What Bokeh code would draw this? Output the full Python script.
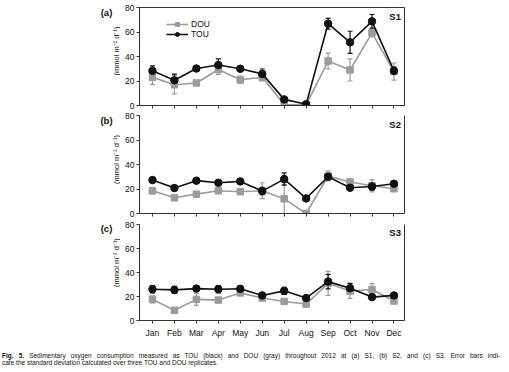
import math
from bokeh.plotting import figure
from bokeh.models import (ColumnDataSource, Whisker, TeeHead, Legend, LegendItem, Label,
                          FixedTicker, LinearAxis, Range1d, Div)
from bokeh.layouts import column, row
from bokeh.core.properties import value
from bokeh.embed import file_html
from bokeh.resources import INLINE

months = ["Jan", "Feb", "Mar", "Apr", "May", "Jun", "Jul", "Aug", "Sep", "Oct", "Nov", "Dec"]
y_ticks = [0, 20, 40, 60, 80]

s1_tou = [28.3, 20.6, 30.2, 33.0, 30.0, 25.8, 5.0, 1.0, 66.8, 51.6, 68.7, 28.3]
s1_tou_sd = [4.0, 5.0, 1.5, 5.0, 2.0, 4.0, 1.0, 0.5, 4.4, 9.0, 5.6, 3.0]
s1_dou = [23.0, 17.0, 18.4, 29.4, 21.0, 23.0, 0.8, 0.5, 36.3, 29.0, 59.3, 27.7]
s1_dou_sd = [6.0, 7.5, 1.5, 4.0, 3.0, 3.0, 1.0, 0.5, 6.5, 9.0, 3.0, 7.0]

s2_tou = [27.3, 20.8, 26.8, 25.1, 26.2, 18.3, 28.1, 12.3, 30.0, 21.0, 22.1, 24.3]
s2_tou_sd = [1.5, 1.5, 1.5, 1.5, 1.5, 3.0, 5.0, 1.5, 2.0, 2.0, 3.0, 1.5]
s2_dou = [18.6, 12.8, 15.8, 18.6, 17.8, 18.6, 12.0, 0.0, 30.6, 25.7, 22.7, 20.2]
s2_dou_sd = [2.5, 1.5, 2.0, 1.5, 2.0, 6.5, 12.0, 0.5, 4.0, 2.0, 5.0, 2.0]

s3_tou = [26.1, 25.5, 26.6, 26.1, 26.4, 20.9, 24.7, 18.7, 32.4, 26.9, 19.5, 20.9]
s3_tou_sd = [3.0, 3.0, 2.0, 3.0, 2.0, 1.5, 3.0, 1.5, 6.0, 4.0, 1.5, 2.0]
s3_dou = [17.6, 8.5, 17.6, 17.0, 23.0, 18.7, 15.9, 13.7, 31.0, 24.5, 25.8, 16.2]
s3_dou_sd = [3.0, 1.5, 5.0, 1.5, 1.5, 1.5, 1.5, 1.5, 10.0, 6.0, 5.0, 2.0]

y_title = "(mmol m\u207b\u00b2 d\u207b\u00b9)"

GRAY = "#9b9b9b"
BLACK = "#111111"
AX = "#333333"
FONT = "Liberation Sans"
SIDE_W = 118


def side(tag, height, tag_y, title_y):
    s = figure(width=SIDE_W, height=height, x_range=Range1d(0, SIDE_W), y_range=Range1d(0, height),
               x_axis_type=None, y_axis_type=None, output_backend="svg", toolbar_location=None,
               min_border=0)
    s.grid.visible = False
    s.outline_line_color = None
    s.background_fill_color = None
    s.border_fill_color = None
    s.text(x=[104], y=[tag_y], text=[tag], text_font=value(FONT), text_font_size="9.5px",
           text_font_style="bold", text_align="center", text_baseline="middle", text_color="#111111")
    s.text(x=[114], y=[title_y], text=[y_title], angle=math.pi / 2, text_font=value(FONT),
           text_font_size="7.5px", text_align="center", text_baseline="middle", text_color="#111111")
    return s


def panel(site, tou, tou_sd, dou, dou_sd, height, bottom, show_months, box, with_legend):
    xs = [months.index(m) + 1 for m in months]
    src = ColumnDataSource(dict(
        x=xs, tou=tou, dou=dou,
        tlo=[v - s for v, s in zip(tou, tou_sd)], thi=[v + s for v, s in zip(tou, tou_sd)],
        dlo=[v - s for v, s in zip(dou, dou_sd)], dhi=[v + s for v, s in zip(dou, dou_sd)],
    ))
    p = figure(width=290, height=height, x_range=Range1d(0.41, 12.48), y_range=Range1d(0, 80),
               output_backend="svg", toolbar_location=None,
               min_border_left=19, min_border_right=6, min_border_top=5, min_border_bottom=bottom)
    p.grid.visible = False
    p.background_fill_color = None
    p.border_fill_color = None
    p.outline_line_color = AX if box else None

    for lo, hi, col in (("dlo", "dhi", GRAY), ("tlo", "thi", BLACK)):
        w = Whisker(source=src, base="x", lower=lo, upper=hi, line_color=col, line_width=1.2,
                    upper_head=TeeHead(size=5, line_color=col, line_width=1.2),
                    lower_head=TeeHead(size=5, line_color=col, line_width=1.2))
        p.add_layout(w)

    dl = p.line("x", "dou", source=src, line_color=GRAY, line_width=1.6)
    ds = p.scatter("x", "dou", source=src, marker="square", size=6.5, color=GRAY)
    tl = p.line("x", "tou", source=src, line_color=BLACK, line_width=1.6)
    ts = p.scatter("x", "tou", source=src, marker="circle", size=7.5, color=BLACK)

    xa = p.xaxis[0]
    xa.ticker = FixedTicker(ticks=xs)
    xa.major_label_overrides = {x: m for x, m in zip(xs, months)}
    xa.major_tick_out = 3
    xa.major_tick_in = 0
    xa.minor_tick_line_color = None
    xa.axis_line_color = AX
    xa.major_tick_line_color = AX
    xa.major_label_text_font = FONT
    if show_months:
        xa.major_label_text_font_size = "8.5px"
        xa.major_label_text_color = "#111111"
        xa.major_label_standoff = 4
    else:
        xa.major_label_text_font_size = "0px"
        xa.major_label_text_color = None
        xa.major_label_standoff = 0

    ya = p.yaxis[0]
    ya.ticker = FixedTicker(ticks=y_ticks)
    ya.major_tick_out = 3
    ya.major_tick_in = 0
    ya.minor_tick_line_color = None
    ya.axis_line_color = AX
    ya.major_tick_line_color = AX
    ya.major_label_text_font = FONT
    ya.major_label_text_font_size = "8.5px"
    ya.major_label_text_color = "#111111"
    ya.major_label_standoff = 2

    if not box:
        ra = LinearAxis(ticker=FixedTicker(ticks=[]), major_label_text_font_size="0px",
                        major_label_text_color=None,
                        major_label_standoff=0, axis_line_color=AX,
                        major_tick_line_color=None, minor_tick_line_color=None)
        p.add_layout(ra, "right")

    p.add_layout(Label(x=12.32, y=73.0, text=site, text_font=FONT, text_font_size="9.5px",
                       text_font_style="bold", text_align="right", text_baseline="middle",
                       text_color="#111111"))

    if with_legend:
        leg = Legend(items=[LegendItem(label="DOU", renderers=[dl, ds]),
                            LegendItem(label="TOU", renderers=[tl, ts])],
                     location=(27, 66), orientation="vertical",
                     border_line_color=None, background_fill_alpha=0,
                     padding=0, margin=0, spacing=0,
                     glyph_width=22, glyph_height=10, label_height=10, label_standoff=3,
                     label_text_font=FONT, label_text_font_size="8.5px",
                     label_text_color="#111111")
        p.add_layout(leg)
    return p


fa = panel("S1", s1_tou, s1_tou_sd, s1_dou, s1_dou_sd, 108, 5, False, True, True)
fb = panel("S2", s2_tou, s2_tou_sd, s2_dou, s2_dou_sd, 109, 6, False, False, False)
fc = panel("S3", s3_tou, s3_tou_sd, s3_dou, s3_dou_sd, 121, 19, True, False, False)

sa = side("(a)", 108, 102, 60)
sb = side("(b)", 109, 103, 60)
sc = side("(c)", 121, 116, 73)

caption_html = (
    "<div style=\"font-family:'Liberation Sans',Arial,sans-serif;font-size:6.5px;"
    "line-height:7px;color:#111;padding-top:12px;width:498px\">"
    "<div style=\"text-align:justify;text-align-last:justify\">"
    "<b>Fig. 5.</b> Sedimentary oxygen consumption measured as TOU (black) and DOU (gray) "
    "throughout 2012 at (a) S1, (b) S2, and (c) S3. Error bars indi-</div>"
    "<div>cate the standard deviation calculated over three TOU and DOU replicates.</div>"
    "</div>"
)
cap = Div(text=caption_html, width=500, height=32, margin=(0, 0, 0, 0))

layout = column(row(sa, fa, spacing=0), row(sb, fb, spacing=0), row(sc, fc, spacing=0), cap,
                margin=(2, 0, 0, 2), spacing=0)

open("out.html", "w").write(file_html(layout, INLINE))
